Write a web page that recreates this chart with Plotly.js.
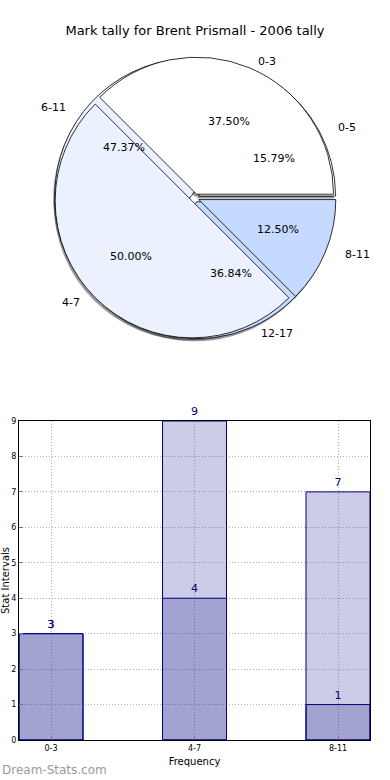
<!DOCTYPE html>
<html>
<head>
<meta charset="utf-8">
<script src="https://cdn.plot.ly/plotly-3.0.1.min.js"></script>
<style>html,body{margin:0;padding:0;background:#fff;}#chart{width:390px;height:780px;}</style>
</head>
<body>
<div id="chart"></div>
<script>
// ---- data ----
var titleText = 'Mark tally for Brent Prismall - 2006 tally';
var pieALabels = ['0-3', '4-7', '8-11'];
var pieAValues = [3, 4, 1];
var pieBLabels = ['0-5', '6-11', '12-17'];
var pieBValues = [3, 9, 7];
var barCategories = ['0-3', '4-7', '8-11'];
var barSeries1 = [3, 9, 7];
var barSeries2 = [3, 4, 1];
var xTitle = 'Frequency';
var yTitle = 'Stat Intervals';
var watermark = 'Dream-Stats.com';

// ---- styles / geometry ----
var FONT = 'DejaVu Sans, sans-serif';
var pieColors = ['#ffffff', '#ebf1ff', '#c6d9ff'];
var PULL = 0.03;
var W = 390, H = 780;
var cx = 195, cy = 198, R = 137;
var RX = 143, RY = 131; // text-placement scale (px per unit) in the overlay axes
var half = R * (1 + PULL);
var dom = {x: [(cx - half) / W, (cx + half) / W], y: [(H - cy - half) / H, (H - cy + half) / H]};
var shadowDom = {x: [dom.x[0] - 1.5 / W, dom.x[1] - 1.5 / W], y: [dom.y[0] - 2.5 / H, dom.y[1] - 2.5 / H]};

function sum(a) { return a.reduce(function (s, v) { return s + v; }, 0); }
// Plotly counterclockwise pies: the first slice lies clockwise of the rotation point.
// Start the first slice at 3 o'clock going counterclockwise.
function rotationFor(vals) { return 90 - 360 * vals[0] / sum(vals); }
function fill(vals, v) { return vals.map(function () { return v; }); }

var textFont = {family: FONT, size: 11, color: '#000'};
// matplotlib-like text placement: labels at 1.1r, percents at 0.6r, offset by explode
function pieAnnotations(labels, vals) {
  var tot = sum(vals), a0 = 0, out = [];
  vals.forEach(function (v, i) {
    var a1 = a0 + 360 * v / tot;
    var mid = (a0 + a1) / 2 * Math.PI / 180;
    var c = Math.cos(mid), s = Math.sin(mid);
    out.push({xref: 'x2', yref: 'y2', x: (PULL + 1.1) * c, y: (PULL + 1.1) * s, text: labels[i],
      xanchor: c >= 0 ? 'left' : 'right', yanchor: 'middle', showarrow: false, font: textFont, borderpad: 0});
    out.push({xref: 'x2', yref: 'y2', x: (PULL + 0.6) * c, y: (PULL + 0.6) * s,
      text: (100 * v / tot).toFixed(2) + '%',
      xanchor: 'center', yanchor: 'middle', showarrow: false, font: textFont, borderpad: 0});
    a0 = a1;
  });
  return out;
}

var common = {type: 'pie', sort: false, direction: 'counterclockwise',
  showlegend: false, hoverinfo: 'none', textinfo: 'none'};
function shadowPie(labels, vals) {
  return Object.assign({}, common, {labels: labels, values: vals, domain: shadowDom,
    rotation: rotationFor(vals), pull: fill(vals, PULL),
    marker: {colors: fill(vals, 'rgba(0,0,0,0.4)'), line: {width: 0}}});
}
function mainPie(labels, vals) {
  return Object.assign({}, common, {labels: labels, values: vals, domain: dom,
    rotation: rotationFor(vals), pull: fill(vals, PULL),
    marker: {colors: pieColors, line: {color: '#000', width: 0.8}}});
}

var traces = [];
traces.push(shadowPie(pieALabels, pieAValues));
traces.push(shadowPie(pieBLabels, pieBValues));
traces.push(mainPie(pieBLabels, pieBValues));
traces.push(mainPie(pieALabels, pieAValues));
// empty carrier trace for the text-overlay axes
traces.push({type: 'scatter', mode: 'none', x: [], y: [], xaxis: 'x2', yaxis: 'y2', showlegend: false, hoverinfo: 'none'});

var barStyle = {type: 'bar', width: 0.446, xaxis: 'x', yaxis: 'y', showlegend: false,
  marker: {color: 'rgba(0,0,128,0.2)', line: {color: '#000080', width: 1}},
  texttemplate: '%{y}', textposition: 'outside', cliponaxis: false,
  textfont: {family: FONT, size: 11, color: '#000080'}, hoverinfo: 'none'};
traces.push(Object.assign({}, barStyle, {x: barCategories, y: barSeries1}));
traces.push(Object.assign({}, barStyle, {x: barCategories, y: barSeries2}));

var topH = 390; // pixel height of the text overlay area (top half)
var gridDash = '1px,2px';
var annotations = pieAnnotations(pieALabels, pieAValues).concat(pieAnnotations(pieBLabels, pieBValues));
annotations.push({text: watermark, xref: 'paper', yref: 'paper', x: 0, y: (H - 770) / H,
  xanchor: 'left', yanchor: 'middle', showarrow: false,
  font: {family: FONT, size: 12, color: '#999999'}});

var layout = {
  width: W, height: H,
  margin: {l: 0, r: 0, t: 0, b: 0},
  paper_bgcolor: '#fff', plot_bgcolor: 'rgba(0,0,0,0)',
  font: {family: FONT, color: '#000'},
  title: {text: titleText, font: {family: FONT, size: 13, color: '#000'}, x: 0.5, xanchor: 'center', y: 1 - 30 / H, yanchor: 'middle'},
  barmode: 'overlay',
  xaxis: {domain: [19 / W, 370 / W], anchor: 'y', type: 'category', range: [-0.223, 2.223],
    showline: true, mirror: true, linecolor: '#000', linewidth: 1,
    showgrid: true, gridcolor: '#b0b0b0', griddash: gridDash, gridwidth: 1,
    ticks: 'inside', ticklen: 4, tickcolor: '#777', tickfont: {family: FONT, size: 8, color: '#000'},
    title: {text: xTitle, font: {family: FONT, size: 10, color: '#000'}, standoff: 6}, zeroline: false},
  yaxis: {domain: [(H - 740) / H, (H - 421) / H], anchor: 'x', range: [0, 9], dtick: 1,
    showline: true, mirror: true, linecolor: '#000', linewidth: 1,
    showgrid: true, gridcolor: '#b0b0b0', griddash: gridDash, gridwidth: 1,
    ticks: 'inside', ticklen: 4, tickcolor: '#777', tickfont: {family: FONT, size: 8, color: '#000'},
    title: {text: yTitle, font: {family: FONT, size: 10, color: '#000'}, standoff: 4}, zeroline: false},
  xaxis2: {domain: [0, 1], anchor: 'y2', range: [-cx / RX, (W - cx) / RX], visible: false, fixedrange: true},
  yaxis2: {domain: [(H - topH) / H, 1], anchor: 'x2', range: [-(topH - cy) / RY, cy / RY], visible: false, fixedrange: true},
  annotations: annotations
};

Plotly.newPlot('chart', traces, layout, {displayModeBar: false, staticPlot: true});
</script>
</body>
</html>
